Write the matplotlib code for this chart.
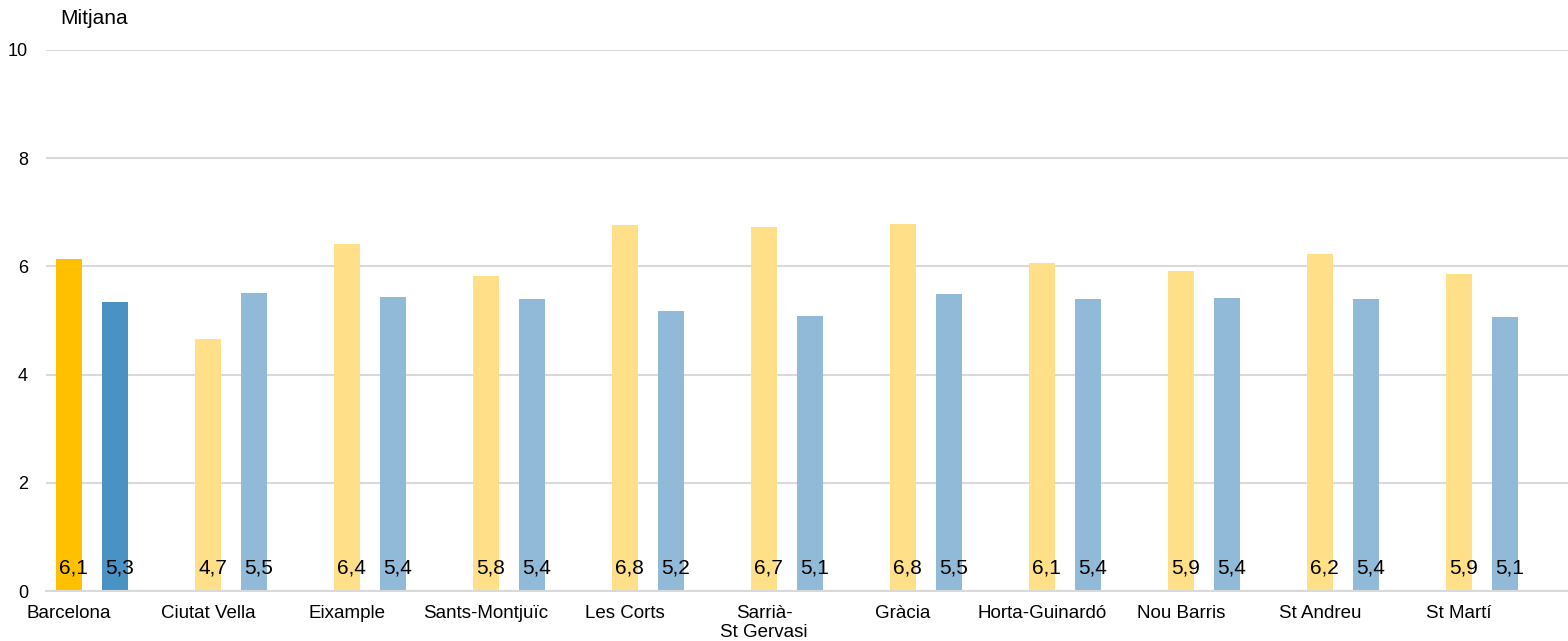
import matplotlib
matplotlib.use("Agg")
import matplotlib.pyplot as plt
import numpy as np

categories = ["Barcelona", "Ciutat Vella", "Eixample", "Sants-Montjuïc", "Les Corts",
              "Sarrià-\nSt Gervasi", "Gràcia", "Horta-Guinardó", "Nou Barris",
              "St Andreu", "St Martí"]
series_a = [6.14, 4.66, 6.41, 5.82, 6.76, 6.73, 6.79, 6.06, 5.91, 6.23, 5.86]
series_b = [5.34, 5.51, 5.44, 5.40, 5.18, 5.08, 5.49, 5.40, 5.42, 5.40, 5.06]
yticks = [0, 2, 4, 6, 8, 10]
ylabel = "Mitjana"

plt.rcParams['font.family'] = ['Liberation Sans', 'DejaVu Sans']

W, H = 1568, 641
fig = plt.figure(figsize=(W / 100, H / 100), dpi=100)
ax = fig.add_axes([46 / W, (H - 591) / H, 1 - 46 / W, (591 - 50) / H])

x = np.arange(len(categories))
bw = 26 / 139
off = 46 / 139
col_a = ["#FFC000"] + ["#FFDF87"] * (len(categories) - 1)
col_b = ["#4A92C4"] + ["#91BAD8"] * (len(categories) - 1)

ax.bar(x, series_a, width=bw, color=col_a, zorder=2)
ax.bar(x + off, series_b, width=bw, color=col_b, zorder=2)

for i in range(len(categories)):
    ax.text(x[i] + 0.035, 0.43, f"{series_a[i]:.1f}".replace(".", ","),
            ha="center", va="center", fontsize=15, zorder=3)
    ax.text(x[i] + off + 0.035, 0.43, f"{series_b[i]:.1f}".replace(".", ","),
            ha="center", va="center", fontsize=15, zorder=3)

ax.set_xlim((46 - 69) / 139, (1568 - 69) / 139)
ax.set_ylim(0, 10)
ax.set_yticks(yticks)
ax.set_yticklabels([str(t) for t in yticks], fontsize=13)
ax.set_xticks(x)
ax.set_xticklabels(categories, fontsize=13.5, linespacing=1.15)
ax.tick_params(axis="both", length=0)
ax.tick_params(axis="y", pad=13)
ax.tick_params(axis="x", pad=10)
ax.grid(axis="y", color="#D9D9D9", linewidth=1.5, zorder=0)
for s in ["top", "right", "left"]:
    ax.spines[s].set_visible(False)
ax.spines["bottom"].set_color("#D9D9D9")
ax.spines["bottom"].set_linewidth(1.5)

fig.text(60 / W, 1 - 19 / H, ylabel, fontsize=15, va="center", ha="left")

fig.savefig("out.png", dpi=100)
